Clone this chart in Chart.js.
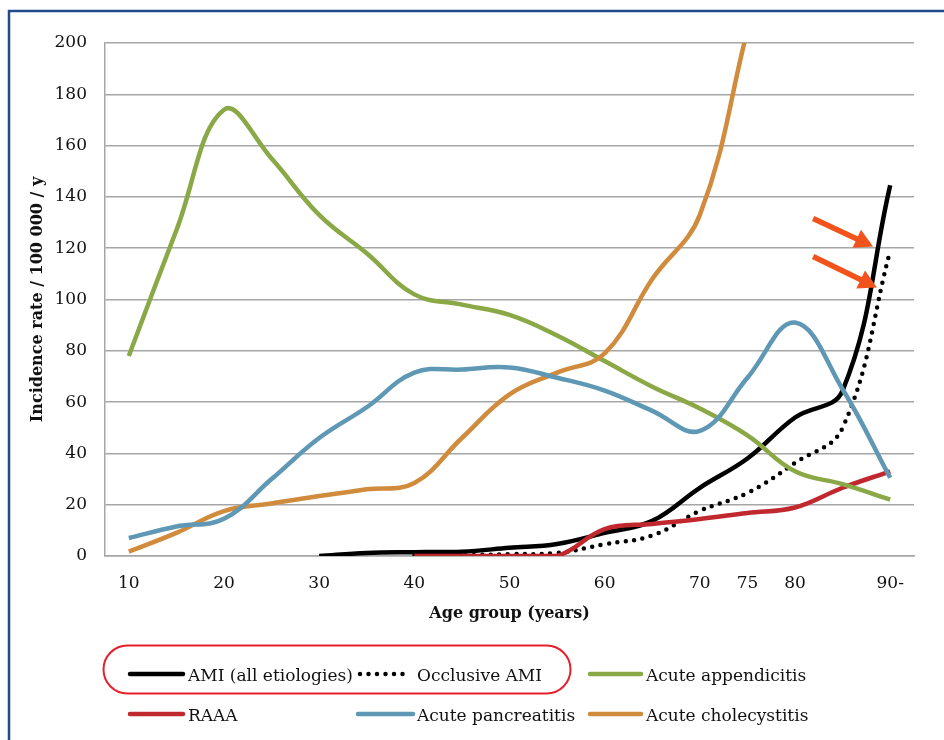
<!DOCTYPE html>
<html><head><meta charset="utf-8">
<script src="https://cdn.jsdelivr.net/npm/chart.js@4.4.1/dist/chart.umd.min.js"></script>
<style>
html,body{margin:0;padding:0;background:#fff;}
#wrap{position:relative;width:944px;height:740px;overflow:hidden;}
canvas{display:block;}
</style></head><body>
<div id="wrap"><canvas id="c" width="944" height="740"></canvas></div>
<script>
// ---- data ----
const ages = [10,15,20,25,30,35,40,45,50,55,60,65,70,75,80,85,90];
const xTickValues = [10,20,30,40,50,60,70,75,80,90];
const xTickLabels = ['10','20','30','40','50','60','70','75','80','90-'];
const amiAll       = [null,null,null,null,0,1.2,1.5,1.7,3.2,4.7,9,13.7,26.6,38,54,64.5,144.5];
const amiOcclusive = [null,null,null,null,null,null,0,0.3,0.7,1.2,4.6,8,17.6,24.6,36.3,50,119];
const appendicitis = [78,127,174,155,133,118,102,98,94,86,76,66,57.5,47,33,28,22];
const raaa         = [null,null,null,null,null,null,0,0,0,0,10.5,12.5,14.4,16.8,18.9,26.6,33];
const pancreatitis = [7,11.5,14.5,30,46,58,71.5,72.7,73.5,69.5,64.5,56.6,48.8,69.5,91,65,30.5];
const cholecystitis= [1.7,9,17.5,20.5,23.4,26,28.5,46,63,71.5,79,108,133,205,null,null,null];
const seriesNames = ['AMI (all etiologies)','Occlusive AMI','Acute appendicitis','RAAA','Acute pancreatitis','Acute cholecystitis'];
// arrow annotations (age, rate) tail -> tip
const arrowTails = [[81.9,131.6],[81.9,116.8]];
const arrowTips  = [[88.2,120.7],[88.6,104.7]];

const FONT = "'DejaVu Serif', serif";
const toXY = arr => ages.map((a,i)=>({x:a,y:arr[i]}));

const colors = ['#000000','#000000','#8BA846','#C0282E','#5E98B4','#D18B3C'];
const seriesData = [amiAll, amiOcclusive, appendicitis, raaa, pancreatitis, cholecystitis];

const datasets = seriesData.map((arr,i)=>({
  label: seriesNames[i],
  data: toXY(arr),
  borderColor: colors[i],
  backgroundColor: colors[i],
  borderWidth: 4.5,
  borderDash: i===1 ? [0,8.5] : [],
  borderCapStyle: i===1 ? 'round' : 'butt',
  pointRadius: 0,
  tension: 0.4,
  fill: false,
  spanGaps: false
}));
const order = [5,4,2,3,0,1];
datasets.forEach((d,i)=>{ d.order = order[i]; });

const legendLayout = [
  {col:130, row:676, len:53, text:188},
  {col:360, row:676, len:46, text:417},
  {col:590, row:676, len:51, text:646},
  {col:130, row:716, len:53, text:188},
  {col:358, row:716, len:55, text:417},
  {col:590, row:716, len:51, text:646}
];

const extras = {
  id:'extras',
  afterDatasetsDraw(chart){
    const ctx = chart.ctx, xs = chart.scales.x, ys = chart.scales.y;
    ctx.save();
    ctx.fillStyle = '#F2521C'; ctx.strokeStyle = '#F2521C';
    arrowTails.forEach((t,i)=>{
      const x0 = xs.getPixelForValue(t[0]), y0 = ys.getPixelForValue(t[1]);
      const x1 = xs.getPixelForValue(arrowTips[i][0]), y1 = ys.getPixelForValue(arrowTips[i][1]);
      const ang = Math.atan2(y1-y0, x1-x0);
      const hl = 18, hw = 10;
      const bx = x1 - hl*Math.cos(ang), by = y1 - hl*Math.sin(ang);
      ctx.lineWidth = 5.5; ctx.lineCap='butt';
      ctx.beginPath(); ctx.moveTo(x0,y0); ctx.lineTo(bx+2*Math.cos(ang),by+2*Math.sin(ang)); ctx.stroke();
      ctx.beginPath();
      ctx.moveTo(x1,y1);
      ctx.lineTo(bx + hw*Math.sin(ang), by - hw*Math.cos(ang));
      ctx.lineTo(bx - hw*Math.sin(ang), by + hw*Math.cos(ang));
      ctx.closePath(); ctx.fill();
    });
    ctx.restore();
  },
  afterDraw(chart){
    const ctx = chart.ctx;
    ctx.save();
    ctx.strokeStyle = '#1F4B8C'; ctx.lineWidth = 2.5;
    ctx.beginPath(); ctx.moveTo(9,760); ctx.lineTo(9,11); ctx.lineTo(960,11); ctx.stroke();
    ctx.font = '17px ' + FONT; ctx.textBaseline = 'middle'; ctx.fillStyle = '#111';
    chart.data.datasets.forEach((d,i)=>{
      const L = legendLayout[i];
      ctx.strokeStyle = d.borderColor; ctx.lineWidth = 4.5;
      ctx.setLineDash(d.borderDash); ctx.lineCap = 'round';
      ctx.beginPath(); ctx.moveTo(L.col, L.row-2); ctx.lineTo(L.col+L.len, L.row-2); ctx.stroke();
      ctx.setLineDash([]);
      ctx.fillText(d.label, L.text, L.row+1);
    });
    ctx.strokeStyle = '#E3202C'; ctx.lineWidth = 2;
    ctx.beginPath(); ctx.roundRect(103.5,645.5,467,48,24); ctx.stroke();
    ctx.restore();
  }
};

new Chart(document.getElementById('c'), {
  type:'line',
  data:{ datasets },
  options:{
    responsive:false, animation:false,
    layout:{ padding:{ left:0, top:43, right:30, bottom:117 } },
    plugins:{ legend:{display:false}, tooltip:{enabled:false} },
    scales:{
      x:{
        type:'linear', min:7.5, max:92.5,
        afterBuildTicks: s => { s.ticks = xTickValues.map(v=>({value:v})); },
        afterFit: s => { s.height = 67; },
        ticks:{ callback:(v)=> xTickLabels[xTickValues.indexOf(v)], font:{family:FONT,size:17}, color:'#111', padding:17, maxRotation:0, autoSkip:false },
        grid:{ display:false, drawTicks:false },
        border:{ display:true, color:'#A6A6A6', width:1.5 },
        title:{ display:true, text:'Age group (years)', font:{family:FONT,size:16,weight:'bold'}, color:'#111', padding:{top:8,bottom:0} }
      },
      y:{
        min:0, max:200,
        afterFit: s => { s.width = 105; },
        ticks:{ stepSize:20, font:{family:FONT,size:17}, color:'#111', padding:18 },
        grid:{ color:'#A6A6A6', lineWidth:1.5, drawTicks:false },
        border:{ display:true, color:'#A6A6A6', width:1.5 },
        title:{ display:true, text:'Incidence rate / 100 000 / y', font:{family:FONT,size:16,weight:'bold'}, color:'#111', padding:{top:28,bottom:0} }
      }
    }
  },
  plugins:[extras]
});
</script>
</body></html>
